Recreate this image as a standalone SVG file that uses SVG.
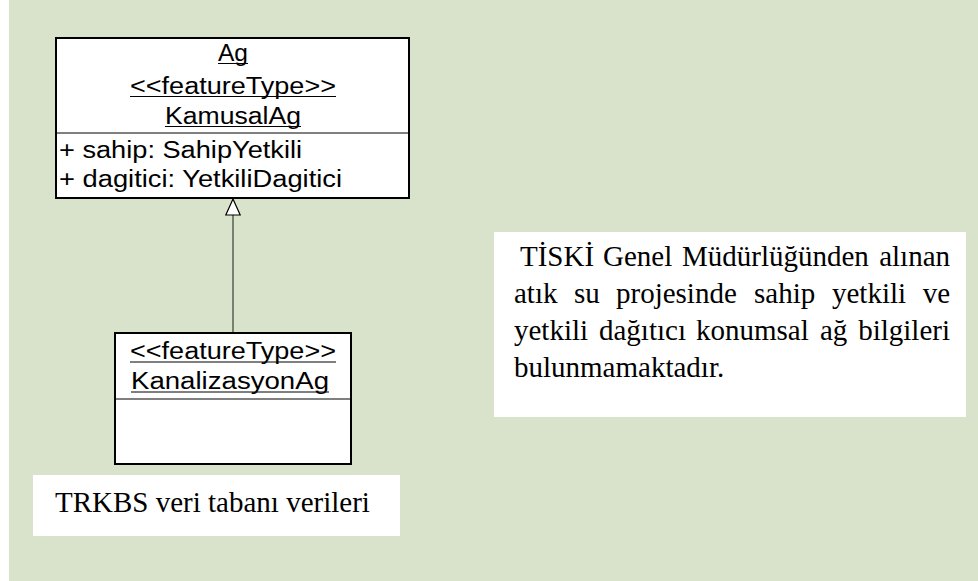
<svg xmlns="http://www.w3.org/2000/svg" width="978" height="581" viewBox="0 0 978 581">
  <style>
    .cls { fill: #ffffff; stroke: #000000; stroke-width: 2; }
    .sep { stroke: #000000; stroke-width: 1; }
    .ul { stroke: #000000; stroke-width: 1; }
    .uml { font-family: "Liberation Sans", Arial, sans-serif; font-size: 23px; fill: #000000; }
    .note { font-family: "Liberation Serif", "Times New Roman", serif; font-size: 29px; fill: #000000; }
    .edge { stroke: #334433; stroke-width: 1.2; fill: none; }
  </style>
  <defs>
    <!-- hollow triangle for UML generalization -->
    <marker id="gen" viewBox="0 0 18 16" refX="17" refY="8" markerWidth="18" markerHeight="16" markerUnits="userSpaceOnUse" orient="auto">
      <path d="M17 8 L1 0.8 L1 15.2 Z" fill="#ffffff" stroke="#000000" stroke-width="1.2"/>
    </marker>
  </defs>

  <!-- page background -->
  <rect x="0" y="0" width="978" height="581" fill="#ffffff"/>
  <rect x="9" y="0" width="969" height="581" fill="#d9e2ca"/>

  <!-- connectors -->
  <g id="connectors">
    <line class="edge" x1="233" y1="332" x2="233" y2="199" marker-end="url(#gen)"/>
  </g>

  <!-- class KamusalAg -->
  <g id="node-kamusalag">
    <rect class="cls" x="56" y="38" width="353" height="160"/>
    <line class="sep" x1="56" y1="133" x2="409" y2="133"/>
    <text class="uml" x="233" y="61" text-anchor="middle" textLength="30" lengthAdjust="spacingAndGlyphs">Ag</text>
    <line class="ul" x1="218" y1="63.5" x2="248" y2="63.5"/>
    <text class="uml" x="233" y="94" text-anchor="middle" textLength="206" lengthAdjust="spacingAndGlyphs">&lt;&lt;featureType&gt;&gt;</text>
    <line class="ul" x1="130" y1="96.5" x2="336" y2="96.5"/>
    <text class="uml" x="233" y="124" text-anchor="middle" textLength="136" lengthAdjust="spacingAndGlyphs">KamusalAg</text>
    <line class="ul" x1="165" y1="126.5" x2="301" y2="126.5"/>
    <text class="uml" x="59" y="158" textLength="243" lengthAdjust="spacingAndGlyphs">+ sahip: SahipYetkili</text>
    <text class="uml" x="59" y="187" textLength="283" lengthAdjust="spacingAndGlyphs">+ dagitici: YetkiliDagitici</text>
  </g>

  <!-- class KanalizasyonAg -->
  <g id="node-kanalizasyonag">
    <rect class="cls" x="115" y="333" width="236" height="131"/>
    <line class="sep" x1="115" y1="399" x2="351" y2="399"/>
    <text class="uml" x="233" y="359" text-anchor="middle" textLength="206" lengthAdjust="spacingAndGlyphs">&lt;&lt;featureType&gt;&gt;</text>
    <line class="ul" x1="130" y1="362" x2="336" y2="362"/>
    <text class="uml" x="230" y="389" text-anchor="middle" textLength="198" lengthAdjust="spacingAndGlyphs">KanalizasyonAg</text>
    <line class="ul" x1="131" y1="392" x2="329" y2="392"/>
  </g>

  <!-- explanatory note, justified lines -->
  <g id="note-tiski">
    <rect x="494" y="232" width="472" height="185" fill="#ffffff"/>
    <text class="note" y="266">
      <tspan x="520">TİSKİ</tspan><tspan x="603">Genel</tspan><tspan x="682">Müdürlüğünden</tspan><tspan x="950" text-anchor="end">alınan</tspan>
    </text>
    <text class="note" y="303">
      <tspan x="514">atık</tspan><tspan x="574">su</tspan><tspan x="616">projesinde</tspan><tspan x="754">sahip</tspan><tspan x="832">yetkili</tspan><tspan x="950" text-anchor="end">ve</tspan>
    </text>
    <text class="note" y="340">
      <tspan x="514">yetkili</tspan><tspan x="599">dağıtıcı</tspan><tspan x="696">konumsal</tspan><tspan x="820">ağ</tspan><tspan x="950" text-anchor="end">bilgileri</tspan>
    </text>
    <text class="note" x="514" y="377">bulunmamaktadır.</text>
  </g>

  <!-- source label -->
  <g id="note-trkbs">
    <rect x="33" y="475" width="367" height="61" fill="#ffffff"/>
    <text class="note" x="55" y="512">TRKBS veri tabanı verileri</text>
  </g>
</svg>
